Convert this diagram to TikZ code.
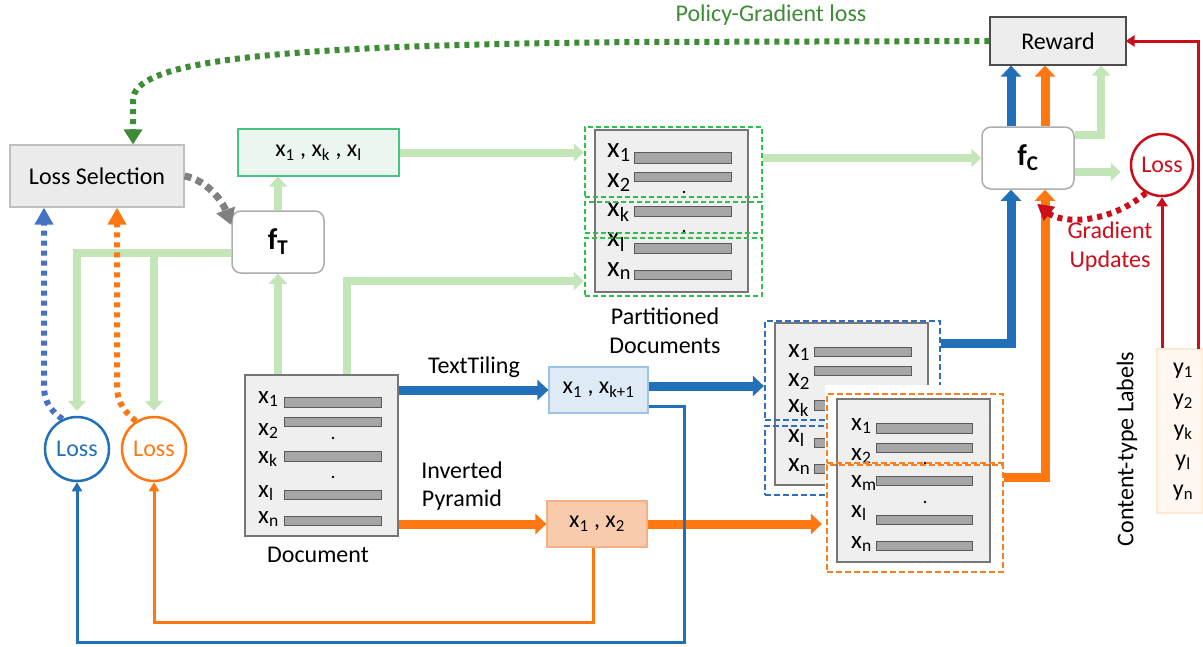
\documentclass[tikz,border=0pt]{standalone}
\usepackage{fontspec}
\setmainfont{Carlito}
\usetikzlibrary{arrows.meta}
\definecolor{lgreen}{HTML}{C3E5B8}
\definecolor{dgreen}{HTML}{3E8C35}
\definecolor{dashgreen}{HTML}{2EBF4F}
\definecolor{tblue}{HTML}{2170B8}
\definecolor{dblue}{HTML}{4472C4}
\definecolor{dashblue}{HTML}{2F6FC0}
\definecolor{torange}{HTML}{FF7711}
\definecolor{dashorange}{HTML}{F5821F}
\definecolor{tred}{HTML}{CC0E1A}
\definecolor{docfill}{HTML}{EFEFEF}
\definecolor{docline}{HTML}{767676}
\definecolor{barfill}{HTML}{A6A6A6}
\definecolor{barline}{HTML}{5A5A5A}
\definecolor{segbluefill}{HTML}{DEEBF7}
\definecolor{segblueline}{HTML}{9DC3E6}
\definecolor{segorangefill}{HTML}{F8CBAD}
\definecolor{segorangeline}{HTML}{F4B183}
\definecolor{selgreenfill}{HTML}{EBF7EE}
\definecolor{selgreenline}{HTML}{45C486}
\newcommand{\sbs}[1]{\textsubscript{#1}}
\tikzset{
  every node/.style={font=\fontsize{24}{28}\selectfont},
  plainbox/.style={draw, rectangle, inner sep=0, line width=1.2pt},
  rbox/.style={plainbox, rounded corners=9pt, draw=black!32, fill=white, line width=1.5pt,
               minimum width=92pt, minimum height=62pt},
  docbox/.style={plainbox, fill=docfill, draw=docline, minimum width=153pt},
  bar/.style={fill=barfill, draw=barline, line width=1pt},
  dl/.style={anchor=base west, inner sep=0},
  gdash/.style={plainbox, draw=dashgreen, line width=2.5pt, dash pattern=on 5pt off 3pt},
  bdash/.style={plainbox, draw=dashblue, line width=2.2pt, dash pattern=on 6pt off 3pt},
  odash/.style={plainbox, draw=dashorange, line width=2.2pt, dash pattern=on 6pt off 3pt},
  lossnode/.style={circle, draw, line width=2.5pt, minimum size=64pt, inner sep=0},
  garrow/.style={draw=lgreen, line width=8pt, -{Triangle[length=10pt,width=18pt]}},
  barrow/.style={draw=tblue, line width=9pt, -{Triangle[length=11pt,width=20pt]}},
  oarrow/.style={draw=torange, line width=9pt, -{Triangle[length=11pt,width=20pt]}},
  thinb/.style={draw=tblue, line width=3pt, -{Triangle[length=9pt,width=10pt]}},
  thino/.style={draw=torange, line width=3pt, -{Triangle[length=9pt,width=10pt]}},
  thinr/.style={draw=tred, line width=3pt, -{Triangle[length=9pt,width=11pt]}},
  dotted line/.style={line width=6pt, dash pattern=on 5pt off 5pt},
  gdot/.style={dotted line, draw=dgreen, -{Triangle[length=15pt,width=18pt]}},
  kdot/.style={dotted line, line width=7pt, dash pattern=on 7pt off 5pt, draw=black!50, -{Triangle[length=16pt,width=19pt]}},
  rdot/.style={dotted line, draw=tred, -{Triangle[length=16pt,width=17pt]}},
  bdot/.style={dotted line, draw=dblue, -{Triangle[length=17pt,width=18pt]}},
  odot/.style={dotted line, draw=torange, -{Triangle[length=17pt,width=18pt]}},
}
\begin{document}
\begin{tikzpicture}[x=1pt,y=-1pt]
\useasboundingbox (0,0) rectangle (1203,646);

% ---------- boxes on the left ----------
\node[plainbox, fill=black!8, draw=black!25, minimum width=174pt, minimum height=62pt] (lsel) at (97,176) {Loss Selection};
\node[plainbox, fill=selgreenfill, draw=selgreenline, minimum width=161pt, minimum height=47pt] (xs) at (318.5,152.5) {x\sbs{1} , x\sbs{k} , x\sbs{l}};
\node[rbox] (fT) at (278,242) {\fontsize{30}{32}\selectfont\bfseries f\textsubscript{T}};
\node[lossnode, draw=tblue, text=tblue] (lossB) at (77,449) {Loss};
\node[lossnode, draw=torange, text=torange] (lossO) at (154,449) {Loss};

% ---------- input document ----------
\node[docbox, minimum height=161pt] (doc) at (321.5,455.5) {};
\foreach \a/\b in {397/407,417/426,451/461,490/499,516/525}
  \draw[bar] (284,\a) rectangle (381,\b);
\begin{scope}[every node/.style={font=\fontsize{25}{28}\selectfont}]
\foreach \t/\y in {1/403,2/435,k/463,l/497,n/523}
  \node[dl] (doc-\t) at (258,\y) {x\sbs{\t}};
\end{scope}
\fill (333,438) circle (1.3pt) (333,477) circle (1.3pt);
\node (doclbl) at (318,555) {Document};

% ---------- segment boxes ----------
\node[plainbox, fill=segbluefill, draw=segblueline, minimum width=99pt, minimum height=46pt] (xk1) at (598.5,390) {x\sbs{1} , x\sbs{k+1}};
\node[plainbox, fill=segorangefill, draw=segorangeline, minimum width=100pt, minimum height=46pt] (x12) at (597,524) {x\sbs{1} , x\sbs{2}};
\node (tt) at (474,367) {TextTiling};
\node[align=center] (ip) at (462,486) {Inverted\\Pyramid};

% ---------- partitioned document ----------
\node[docbox, minimum height=162pt] (pdoc) at (671.5,211) {};
\foreach \a/\b in {152/163,172/181,206/216,243/253,270/279}
  \draw[bar] (634,\a) rectangle (731,\b);
\begin{scope}[every node/.style={font=\fontsize{29}{32}\selectfont}]
\foreach \t/\y in {1/157,2/187,k/216,l/246,n/276}
  \node[dl] (pd-\t) at (607,\y) {x\sbs{\t}};
\end{scope}
\fill (684,192) circle (1.3pt) (684,231) circle (1.3pt);
\node[gdash, minimum width=177pt, minimum height=70pt] (pd1) at (673.5,162) {};
\node[gdash, minimum width=177pt, minimum height=31pt] (pd2) at (673.5,217.5) {};
\node[gdash, minimum width=177pt, minimum height=58pt] (pd3) at (673.5,267) {};
\node[align=center, font=\fontsize{24}{29}\selectfont] (pl) at (665,331) {Partitioned\\Documents};

% ---------- TextTiling document ----------
\node[docbox, minimum height=162pt] (bdoc) at (851.5,404) {};
\foreach \a/\b in {347/356,366/375,400/410,438/447,464/473}
  \draw[bar] (814,\a) rectangle (911,\b);
\begin{scope}[every node/.style={font=\fontsize{27}{30}\selectfont}]
\foreach \t/\y in {1/357,2/386,k/412,l/442,n/471}
  \node[dl] (bd-\t) at (788,\y) {x\sbs{\t}};
\end{scope}
\node[bdash, minimum width=175pt, minimum height=99pt] (bd1) at (852.5,370.5) {};
\node[bdash, minimum width=175pt, minimum height=69pt] (bd2) at (852.5,460.5) {};

% ---------- Inverted Pyramid document ----------
\fill[white] (825,385) rectangle (1006,576);
\node[docbox, minimum height=163pt] (odoc) at (913.5,480.5) {};
\foreach \a/\b in {423/433,443/452,476/485,515/524,541/550}
  \draw[bar] (876,\a) rectangle (972,\b);
\begin{scope}[every node/.style={font=\fontsize{25}{28}\selectfont}]
\foreach \t/\y in {1/430,2/460,m/487,l/517,n/548}
  \node[dl] (od-\t) at (851,\y) {x\sbs{\t}};
\end{scope}
\fill (925,463) circle (1.3pt) (925,502) circle (1.3pt);
\node[odash, minimum width=176pt, minimum height=69pt] (od1) at (915,428.5) {};
\node[odash, minimum width=176pt, minimum height=107pt] (od2) at (915,518.5) {};

% ---------- classifier, reward, labels ----------
\node[rbox] (fC) at (1028,158) {\fontsize{30}{32}\selectfont\bfseries f\textsubscript{C}};
\node[plainbox, fill=black!7, draw=black!70, minimum width=136pt, minimum height=48pt] (rew) at (1058,41) {Reward};
\node[lossnode, draw=tred, text=tred, minimum size=62pt] (lossR) at (1162,165) {Loss};
\node[plainbox, fill=orange!6, draw=orange!18, minimum width=46pt, minimum height=164pt] (cbox) at (1180,431) {};
\foreach \t/\y in {1/374,2/405,k/436,l/466,n/496}
  \node[anchor=base, inner sep=0] (cy-\t) at (1183,\y) {y\sbs{\t}};
\node[rotate=90] (ctl) at (1127,449) {Content-type Labels};
\node[align=center, text=tred, font=\fontsize{24}{29}\selectfont] (gu) at (1110,247) {Gradient\\Updates};
\node[text=dgreen] (pgl) at (771,15) {Policy-Gradient loss};

% ---------- light green flows ----------
\draw[garrow] (fT.north) -- (fT.north |- xs.south);
\draw[garrow] (xs.east) -- (xs.east -| pd1.west);
\draw[garrow] (doc.north -| fT.south) -- (fT.south);
\coordinate (g1) at (347,281);
\draw[garrow] (doc.north -| g1) -- (g1) -- (g1 -| pd3.west);
\draw[garrow] (fC.west -| pd1.east) -- (fC.west);
\coordinate (gT) at ([yshift=-11pt]fT.west);
\draw[garrow, shorten >=5pt] (gT) -| (lossB.north);
\draw[garrow, shorten >=5pt] (gT -| lossO.north) -- (lossO.north);
\coordinate (gR) at (1101,135);
\draw[garrow] (gR -| fC.east) -- (gR) -- (gR |- rew.south);
\coordinate (gl) at ([yshift=-14pt]fC.east);
\path ([xshift=-9pt]lossR.west) coordinate (rl);
\draw[garrow] (gl) -- (rl |- gl);

% ---------- segmentation flows ----------
\draw[barrow] (xk1.west -| doc.east) -- (xk1.west);
\draw[barrow] ([yshift=4pt]xk1.east) -- ([yshift=4pt]xk1.east -| bd1.west);
\draw[barrow] ([yshift=27pt]bd1.east) -| ([xshift=-17pt]fC.south);
\draw[oarrow] (x12.west -| doc.east) -- (x12.west);
\draw[oarrow, shorten >=4pt] (x12.east) -- (x12.east -| od2.west);
\draw[oarrow] ([yshift=41.5pt]od2.east) -| ([xshift=17pt]fC.south);
\draw[barrow] ([xshift=-17pt]fC.north) -- ([xshift=-47pt]rew.south);
\draw[oarrow] ([xshift=17pt]fC.north) -- ([xshift=-13pt]rew.south);

% ---------- thin feedback lines ----------
\coordinate (bc) at (684,642);
\draw[thinb] ([yshift=-16pt]xk1.east) -| (bc) -| (lossB.south);
\coordinate (oc) at (593,622);
\draw[thino] (x12.south -| oc) -- (oc) -| (lossO.south);
\draw[thinr] (cbox.north -| lossR.south) -- (lossR.south);
\coordinate (rc) at (1198,349);
\draw[thinr, shorten >=-1pt] (rc) |- (rew.east);

% ---------- dotted update paths ----------
\coordinate (pg) at (133,100);
\draw[gdot] (rew.west) -- (640,42) .. controls (260,45) and (133,62) .. (pg) -- (pg |- lsel.north);
\draw[kdot] (lsel.east) .. controls (206,180) and (222,200) .. ([yshift=17pt]fT.west);
\draw[rdot] (lossR.240) .. controls (1110,224) and (1062,224) .. ([xshift=9pt,yshift=-14pt]fC.south);
\coordinate (bq) at (44,385);
\draw[bdot] (lossB.116) .. controls (47,408) and (44,398) .. (bq) -- (bq |- lsel.south);
\coordinate (oq) at (117,385);
\draw[odot] (lossO.123) .. controls (120,408) and (117,398) .. (oq) -- (oq |- lsel.south);
\end{tikzpicture}
\end{document}
